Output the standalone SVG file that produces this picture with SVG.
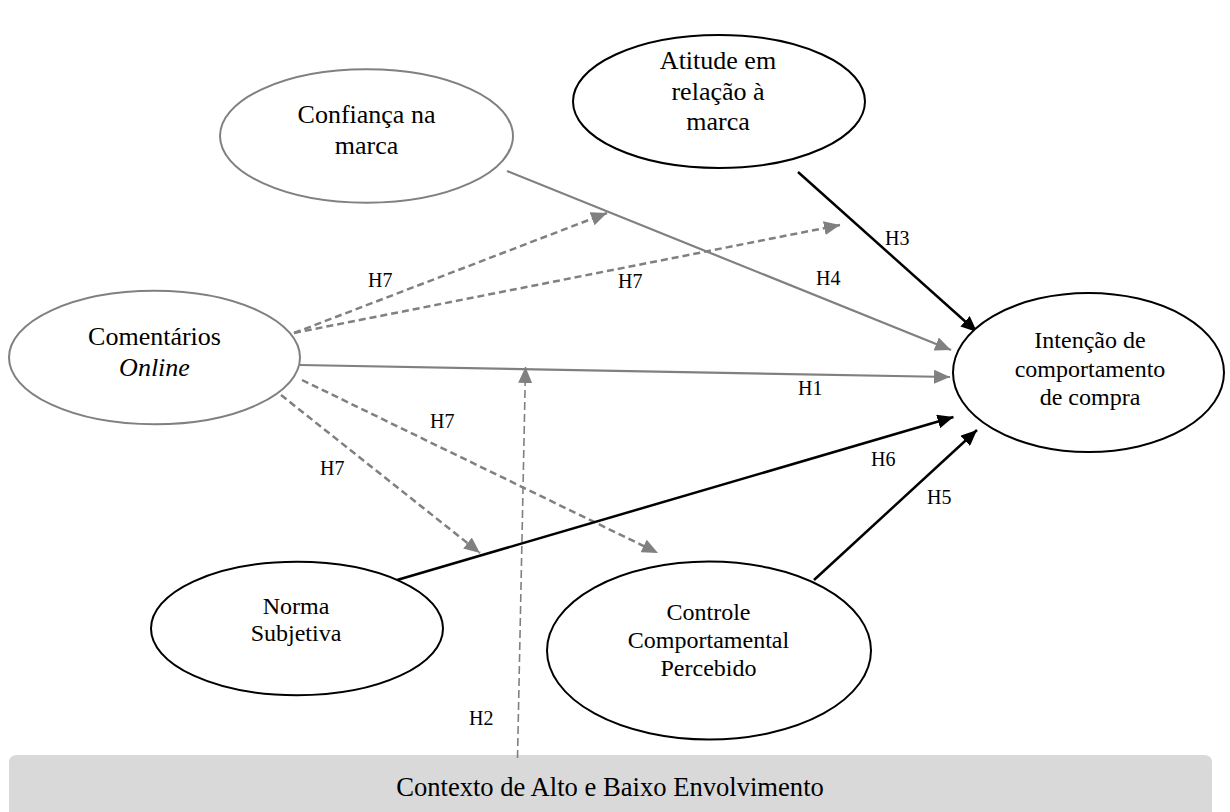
<svg xmlns="http://www.w3.org/2000/svg" width="1230" height="812" viewBox="0 0 1230 812" font-family="'Liberation Serif', 'Times New Roman', 'DejaVu Serif', serif">
<style>
text{font-family:'Liberation Serif','Times New Roman','DejaVu Serif',serif;fill:#000}
.n{font-size:26px;text-anchor:middle}
.c{font-size:26.6px;text-anchor:middle}
.s{font-size:24px;text-anchor:middle}
.h{font-size:20px}
.eg{fill:#fff;stroke:#808080;stroke-width:2}
.eb{fill:#fff;stroke:#000;stroke-width:2}
.gs{stroke:#808080;stroke-width:2.2;fill:none}
.gd{stroke:#808080;stroke-width:2.5;fill:none;stroke-dasharray:7 4}
.bs{stroke:#000;stroke-width:2.5;fill:none}
.h2{stroke:#808080;stroke-width:1.6;fill:none;stroke-dasharray:8 4}
</style>
<defs>
<marker id="ag" markerUnits="userSpaceOnUse" viewBox="0 0 16 14" refX="16" refY="7" markerWidth="16" markerHeight="14" orient="auto"><path d="M0,0 L16,7 L0,14 z" fill="#808080"/></marker>
<marker id="ab" markerUnits="userSpaceOnUse" viewBox="0 0 16 14" refX="16" refY="7" markerWidth="16" markerHeight="14" orient="auto"><path d="M0,0 L16,7 L0,14 z" fill="#000"/></marker>
</defs>
<g id="contexto">
<path d="M9,812 V763 Q9,755 17,755 H1204 Q1212,755 1212,763 V812 Z" fill="#d9d9d9"/>
<text class="c" x="610" y="796">Contexto de Alto e Baixo Envolvimento</text>
</g>
<g id="connectors">
<line class="gs" x1="507" y1="171" x2="951" y2="350" marker-end="url(#ag)"/>
<line class="gs" x1="300" y1="365" x2="950" y2="377" marker-end="url(#ag)"/>
<line class="gd" x1="294" y1="333" x2="607" y2="213" marker-end="url(#ag)"/>
<line class="gd" x1="294" y1="333" x2="840" y2="225" marker-end="url(#ag)"/>
<line class="gd" x1="302" y1="380" x2="658" y2="553" marker-end="url(#ag)"/>
<line class="gd" x1="281" y1="395" x2="480" y2="553" marker-end="url(#ag)"/>
<line class="h2" x1="517.5" y1="758" x2="525.5" y2="367" marker-end="url(#ag)"/>
<line class="bs" x1="798" y1="172" x2="977" y2="332" marker-end="url(#ab)"/>
<line class="bs" x1="397" y1="580" x2="953.5" y2="417" stroke-width="3" marker-end="url(#ab)"/>
<line class="bs" x1="814" y1="580" x2="977" y2="430" marker-end="url(#ab)"/>
<text class="h" x="368" y="287">H7</text>
<text class="h" x="618" y="288">H7</text>
<text class="h" x="816" y="285">H4</text>
<text class="h" x="885" y="245">H3</text>
<text class="h" x="798" y="395">H1</text>
<text class="h" x="430" y="428">H7</text>
<text class="h" x="320" y="475">H7</text>
<text class="h" x="871" y="466">H6</text>
<text class="h" x="927" y="504">H5</text>
<text class="h" x="469" y="725">H2</text>
</g>
<g id="confianca">
<ellipse class="eg" cx="366.5" cy="136" rx="146.5" ry="66.7"/>
<text class="n" x="366.5" y="123">Confiança na</text>
<text class="n" x="366.5" y="154">marca</text>
</g>
<g id="atitude">
<ellipse class="eb" cx="719" cy="101.5" rx="146" ry="66.5"/>
<text class="n" x="718" y="69">Atitude em</text>
<text class="n" x="718" y="100">relação à</text>
<text class="n" x="718" y="130">marca</text>
</g>
<g id="comentarios">
<ellipse class="eg" cx="154.5" cy="357.5" rx="145.5" ry="66.7"/>
<text class="n" x="154.5" y="345">Comentários</text>
<text class="n" x="154.5" y="376" font-style="italic">Online</text>
</g>
<g id="intencao">
<ellipse class="eb" cx="1088.5" cy="372.5" rx="135.5" ry="79.5"/>
<text class="s" x="1090" y="348">Intenção de</text>
<text class="s" x="1090" y="376.5">comportamento</text>
<text class="s" x="1090" y="405">de compra</text>
</g>
<g id="norma">
<ellipse class="eb" cx="297" cy="628.5" rx="146" ry="66.7"/>
<text class="s" x="296" y="613.5">Norma</text>
<text class="s" x="296" y="641">Subjetiva</text>
</g>
<g id="controle">
<ellipse class="eb" cx="709" cy="650.5" rx="162" ry="89"/>
<text class="s" x="708.5" y="620">Controle</text>
<text class="s" x="708.5" y="648">Comportamental</text>
<text class="s" x="708.5" y="676">Percebido</text>
</g>
</svg>
